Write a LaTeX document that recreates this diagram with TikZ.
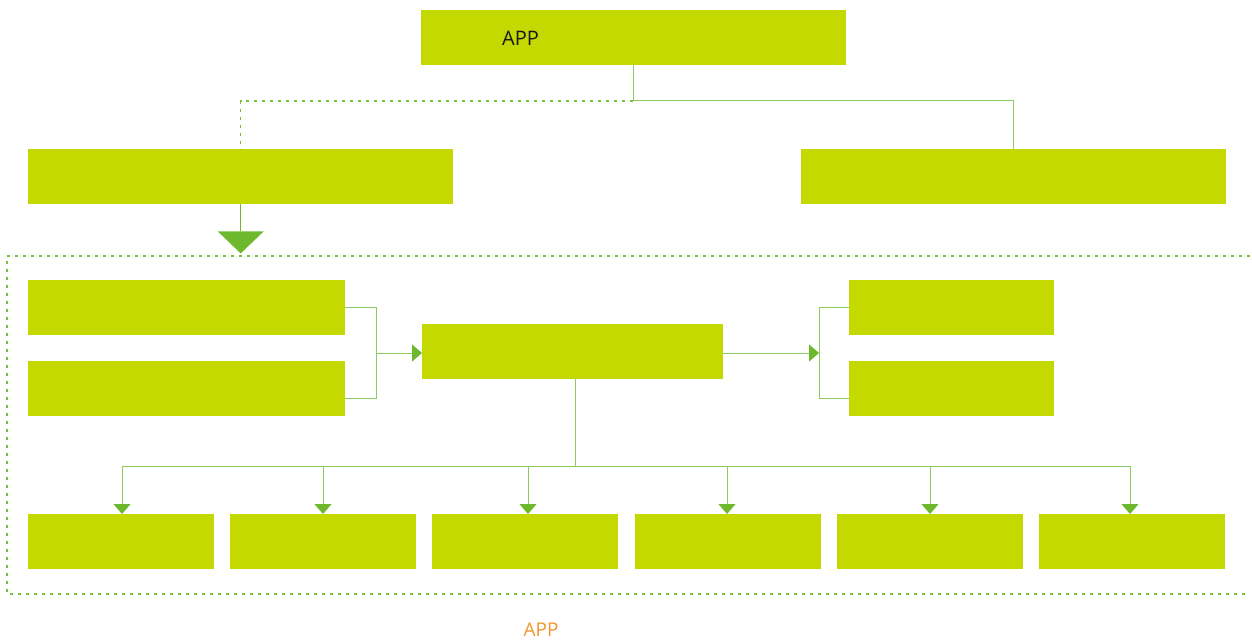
\documentclass[tikz,border=0pt]{standalone}
\usepackage{fontspec}
\setmainfont{Open Sans}
\usetikzlibrary{arrows.meta}
\definecolor{boxc}{RGB}{195,217,0}
\definecolor{linec}{RGB}{140,204,94}
\definecolor{arrc}{RGB}{110,184,46}
\definecolor{dotc}{RGB}{118,192,60}
\definecolor{orangec}{RGB}{240,150,46}
\begin{document}
\begin{tikzpicture}[x=1pt,y=-1pt,
  box/.style={fill=boxc,draw=none,inner sep=0pt,anchor=north west},
  conn/.style={draw=linec,line width=1pt},
  arr/.style={conn,-{Triangle[width=17pt,length=10pt,fill=arrc,color=arrc]}},
  dotl/.style={draw=dotc,line width=1.2pt,dash pattern=on 3pt off 5pt}]
\useasboundingbox (0,0) rectangle (1252,644);
% boxes
\node[box,minimum width=425pt,minimum height=55pt] (app) at (421,10) {};
\node[anchor=west,inner sep=0pt,font=\fontsize{20}{24}\selectfont,text=black!90] (apptxt) at (502,38) {APP};
\node[box,minimum width=425pt,minimum height=55pt] (ml) at (28,149) {};
\node[box,minimum width=425pt,minimum height=55pt] (mr) at (801,149) {};
\node[box,minimum width=317pt,minimum height=55pt] (l1) at (28,280) {};
\node[box,minimum width=317pt,minimum height=55pt] (l2) at (28,361) {};
\node[box,minimum width=301pt,minimum height=55pt] (c) at (422,324) {};
\node[box,minimum width=205pt,minimum height=55pt] (r1) at (849,280) {};
\node[box,minimum width=205pt,minimum height=55pt] (r2) at (849,361) {};
\foreach \i/\x in {1/28,2/230,3/432,4/635,5/837,6/1039}
  \node[box,minimum width=186pt,minimum height=55pt] (b\i) at (\x,514) {};
% container
\coordinate (ctl) at (7,256);
\coordinate (ctr) at (1250,256);
\coordinate (cbl) at (7,594);
\coordinate (cbr) at (1248,594);
\draw[dotl] (ctr) -- (ctl) -- (cbl) -- (cbr);
% top connectors
\coordinate (jt) at (633,101);
\draw[conn] (app.south -| jt) -- (jt) -- (jt -| mr.north) -- (mr.north);
\draw[dotl] (jt) -- (jt -| ml.north) -- (ml.north);
% big triangle
\coordinate (tri) at ([yshift=-27pt]ml.south);
\draw[conn,draw=arrc] (ml.south) -- (tri);
\fill[arrc] ([xshift=-23pt]tri) -- ([xshift=23pt]tri) -- ([yshift=-22pt]tri) -- cycle;
% left bracket
\coordinate (lb) at (376,353);
\coordinate (lbb) at (376,398);
\draw[conn] (l1.east) -- (l1.east -| lb) -- (lbb) -- (lbb -| l2.east);
\draw[arr] (lb) -- (lb -| c.west);
% right bracket
\coordinate (rb) at (819,353);
\coordinate (rbb) at (819,398);
\draw[arr] (c.east |- rb) -- (rb);
\draw[conn] (r1.west) -- (r1.west -| rb) -- (rbb) -- (rbb -| r2.west);
% bottom tree
\coordinate (bj) at (575,466);
\draw[conn] (c.south -| bj) -- (bj);
\foreach \i/\x in {1/122,2/323,3/528,4/727,5/930,6/1130}
  \coordinate (d\i) at (\x,466);
\draw[conn] (d1) -- (d6);
\foreach \i in {1,...,6}
  \draw[arr] (d\i) -- (d\i |- b\i.north);
% bottom label
\node[font=\fontsize{19}{22}\selectfont,text=orangec] (lbl) at (541,630) {APP};
\end{tikzpicture}
\end{document}
